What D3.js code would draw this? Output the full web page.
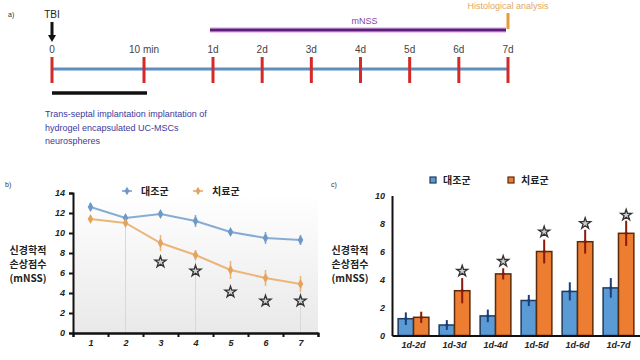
<!DOCTYPE html>
<html><head><meta charset="utf-8">
<script src="https://cdn.jsdelivr.net/npm/d3@7"></script>
<style>
html,body{margin:0;padding:0;background:#fff;}
svg{display:block;}
text{font-family:"Liberation Sans",Arial,sans-serif;}
.kr{font-family:"Noto Sans CJK KR","Noto Sans",sans-serif;font-weight:700;}
</style></head>
<body>
<svg id="c" width="640" height="360"></svg>
<script>
// ---------- data ----------
const minuteTicks = [0, 10];
const minuteLabels = ["0", "10 min"];
const dayTicks = [1, 2, 3, 4, 5, 6, 7];
const dayLabels = ["1d", "2d", "3d", "4d", "5d", "6d", "7d"];
const implantText = ["Trans-septal implantation  implantation of", "hydrogel encapsulated UC-MSCs", "neurospheres"];

const seriesNames = ["대조군", "치료군"];
const days = [1, 2, 3, 4, 5, 6, 7];
const controlScore = [12.6, 11.5, 11.9, 11.2, 10.1, 9.5, 9.3];
const controlErr = [0.4, 0.3, 0.3, 0.6, 0.3, 0.6, 0.5];
const treatScore = [11.4, 11.0, 9.0, 7.8, 6.3, 5.5, 4.9];
const treatErr = [0.2, 0.3, 0.8, 0.5, 0.9, 0.8, 0.8];
const lineStarDays = [3, 4, 5, 6, 7];
const lineStarY = [7.1, 6.2, 4.1, 3.2, 3.2];
const lineYTicks = [0, 2, 4, 6, 8, 10, 12, 14];
const dropDays = [2, 4, 7];

const periods = ["1d-2d", "1d-3d", "1d-4d", "1d-5d", "1d-6d", "1d-7d"];
const controlImp = [1.2, 0.75, 1.4, 2.5, 3.15, 3.4];
const controlImpErr = [0.45, 0.35, 0.45, 0.4, 0.65, 0.7];
const treatImp = [1.3, 3.2, 4.4, 6.0, 6.7, 7.3];
const treatImpErr = [0.4, 0.9, 0.4, 0.85, 0.85, 0.9];
const barStarY = [null, 4.6, 5.3, 7.4, 8.0, 8.6];
const barYTicks = [0, 2, 4, 6, 8, 10];
const yLabelLines = ["신경학적", "손상점수", "(mNSS)"];

// ---------- setup ----------
const svg = d3.select("#c");
const starPath = d3.symbol().type(d3.symbolStar).size(38)();

// ---------- panel a: timeline ----------
const tMin = d3.scaleLinear().domain([0, 10]).range([52, 144]);
const tDay = d3.scaleLinear().domain([1, 7]).range([213, 508]);
const lineY = 69;
const a = svg.append("g");
a.append("text").attr("x", 8).attr("y", 17).attr("font-size", 7).attr("fill", "#333").text("a)");
a.append("line").attr("x1", tMin(0)).attr("x2", tDay(7)).attr("y1", lineY).attr("y2", lineY)
  .attr("stroke", "#5a8fbf").attr("stroke-width", 3);
const allTicks = minuteTicks.map((m, i) => ({x: tMin(m), label: minuteLabels[i]}))
  .concat(dayTicks.map((d, i) => ({x: tDay(d), label: dayLabels[i]})));
a.selectAll(".tk").data(allTicks).join("line")
  .attr("x1", d => d.x).attr("x2", d => d.x).attr("y1", 57).attr("y2", 83)
  .attr("stroke", "#d42a2a").attr("stroke-width", 3);
a.selectAll(".tl").data(allTicks).join("text")
  .attr("x", d => d.x).attr("y", 53).attr("text-anchor", "middle")
  .attr("font-size", 10).attr("fill", "#444").text(d => d.label);
a.append("text").attr("x", tMin(0)).attr("y", 18).attr("text-anchor", "middle")
  .attr("font-size", 10).attr("fill", "#222").text("TBI");
a.append("line").attr("x1", tMin(0)).attr("x2", tMin(0)).attr("y1", 22).attr("y2", 37)
  .attr("stroke", "#111").attr("stroke-width", 3);
a.append("path").attr("d", `M${tMin(0)-4},35 L${tMin(0)+4},35 L${tMin(0)},42 Z`).attr("fill", "#111");
a.append("line").attr("x1", tDay(1) - 3).attr("x2", tDay(7) - 2).attr("y1", 30).attr("y2", 30)
  .attr("stroke", "#f2c8f2").attr("stroke-width", 6);
a.append("line").attr("x1", tDay(1) - 3).attr("x2", tDay(7) - 2).attr("y1", 30).attr("y2", 30)
  .attr("stroke", "#5e1e7e").attr("stroke-width", 3);
a.append("text").attr("x", (tDay(1) + tDay(7)) / 2 + 4).attr("y", 24).attr("text-anchor", "middle")
  .attr("font-size", 9).attr("fill", "#8a3fa8").text("mNSS");
a.append("line").attr("x1", tDay(7)).attr("x2", tDay(7)).attr("y1", 13).attr("y2", 29)
  .attr("stroke", "#e89a3c").attr("stroke-width", 3);
a.append("text").attr("x", tDay(7)).attr("y", 9).attr("text-anchor", "middle")
  .attr("font-size", 9).attr("fill", "#e0a865").text("Histological analysis");
a.append("line").attr("x1", tMin(0)).attr("x2", tMin(10) + 3).attr("y1", 93).attr("y2", 93)
  .attr("stroke", "#111").attr("stroke-width", 3.5);
a.selectAll(".it").data(implantText).join("text")
  .attr("x", 45).attr("y", (d, i) => 117 + i * 13.5)
  .attr("font-size", 9).attr("fill", "#3b3b9c").text(d => d);

// ---------- panel b: line chart ----------
const bx = d3.scaleLinear().domain([0.5, 7.5]).range([73, 318]);
const by = d3.scaleLinear().domain([0, 14]).range([333, 193]);
const b = svg.append("g");
const defs = svg.append("defs");
const grad = defs.append("linearGradient").attr("id", "bg").attr("x1", 0).attr("y1", 0).attr("x2", 0).attr("y2", 1);
grad.append("stop").attr("offset", "0%").attr("stop-color", "#ffffff");
grad.append("stop").attr("offset", "100%").attr("stop-color", "#e9e9e9");
b.append("rect").attr("x", bx(0.5)).attr("y", by(14)).attr("width", bx(7.5) - bx(0.5))
  .attr("height", by(0) - by(14)).attr("fill", "url(#bg)");
b.append("text").attr("x", 5).attr("y", 187).attr("font-size", 7).attr("fill", "#333").text("b)");
b.selectAll(".dl").data(dropDays).join("line")
  .attr("x1", d => bx(d)).attr("x2", d => bx(d)).attr("y1", d => by(treatScore[d - 1])).attr("y2", by(0))
  .attr("stroke", "#d8d8d8").attr("stroke-width", 1);

b.append("g").attr("transform", `translate(${bx(0.5)},0)`)
  .call(d3.axisLeft(by).tickValues(lineYTicks).tickSize(4).tickPadding(4));
b.append("g").attr("transform", `translate(0,${by(0)})`)
  .call(d3.axisBottom(bx).tickValues(days).tickFormat(d3.format("d")).tickSize(0).tickPadding(7));
b.append("g").attr("transform", `translate(0,${by(0)})`)
  .call(d3.axisBottom(bx).tickValues(d3.range(0.5, 8, 1)).tickSize(4).tickFormat(""));
b.selectAll(".domain").attr("stroke", "#111").attr("stroke-width", 2);
b.selectAll(".tick line").attr("stroke", "#111").attr("stroke-width", 2);
b.selectAll(".tick text").attr("font-size", 9).attr("font-style", "italic").attr("font-weight", "bold").attr("fill", "#222");

function drawSeries(g, vals, errs, color, mcolor) {
  const pts = vals.map((v, i) => ({x: days[i], y: v, e: errs[i]}));
  g.append("path").datum(pts).attr("fill", "none").attr("stroke", color).attr("stroke-width", 2)
    .attr("d", d3.line().x(d => bx(d.x)).y(d => by(d.y)));
  g.selectAll(null).data(pts).join("line")
    .attr("x1", d => bx(d.x)).attr("x2", d => bx(d.x))
    .attr("y1", d => by(d.y - d.e)).attr("y2", d => by(d.y + d.e))
    .attr("stroke", color).attr("stroke-width", 1.6);
  g.selectAll(null).data(pts).join("path")
    .attr("transform", d => `translate(${bx(d.x)},${by(d.y)})`)
    .attr("d", d3.symbol().type(d3.symbolDiamond).size(28)()).attr("fill", mcolor);
}
drawSeries(b, controlScore, controlErr, "#86acd4", "#6d98c8");
drawSeries(b, treatScore, treatErr, "#ecb57a", "#e3a460");
b.selectAll(".st").data(lineStarDays).join("path")
  .attr("transform", (d, i) => `translate(${bx(d)},${by(lineStarY[i])})`)
  .attr("d", starPath).attr("fill", "#d0d0d0").attr("stroke", "#333").attr("stroke-width", 1.3);
const legB = [{x: 127, c: "#6d98c8"}, {x: 198, c: "#e3a460"}];
legB.forEach((l, i) => {
  b.append("path").attr("transform", `translate(${l.x},191)`).attr("d", d3.symbol().type(d3.symbolDiamond).size(22)()).attr("fill", l.c);
  b.append("line").attr("x1", l.x - 5).attr("x2", l.x + 5).attr("y1", 191).attr("y2", 191).attr("stroke", l.c).attr("stroke-width", 1.5);
  b.append("text").attr("class", "kr").attr("x", l.x + 14).attr("y", 195).attr("font-size", 10).attr("fill", "#222").text(seriesNames[i]);
});
b.selectAll(".yl").data(yLabelLines).join("text").attr("class", "kr")
  .attr("x", 28).attr("y", (d, i) => 254 + i * 14).attr("text-anchor", "middle")
  .attr("font-size", 10).attr("fill", "#222").text(d => d);

// ---------- panel c: bar chart ----------
const cx = d3.scaleBand().domain(periods).range([392, 640]).paddingInner(0.25).paddingOuter(0.15);
const cy = d3.scaleLinear().domain([0, 10]).range([335.5, 195.5]);
const c = svg.append("g");
c.append("text").attr("x", 331).attr("y", 187).attr("font-size", 7).attr("fill", "#333").text("c)");
const bw = cx.bandwidth() / 2;
const barData = [];
periods.forEach((p, i) => {
  barData.push({p, k: 0, v: controlImp[i], e: controlImpErr[i]});
  barData.push({p, k: 1, v: treatImp[i], e: treatImpErr[i]});
});
const fills = ["#5b9bd5", "#ed7d31"], strokes = ["#1f3a5c", "#5a2a0a"], errC = ["#1c3f7a", "#8a1a0a"];
c.selectAll(".bar").data(barData).join("rect")
  .attr("x", d => cx(d.p) + d.k * bw).attr("width", bw)
  .attr("y", d => cy(d.v)).attr("height", d => cy(0) - cy(d.v))
  .attr("fill", d => fills[d.k]).attr("stroke", d => strokes[d.k]).attr("stroke-width", 1.5);
c.selectAll(".eb").data(barData).join("line")
  .attr("x1", d => cx(d.p) + d.k * bw + bw / 2).attr("x2", d => cx(d.p) + d.k * bw + bw / 2)
  .attr("y1", d => cy(d.v - d.e)).attr("y2", d => cy(d.v + d.e))
  .attr("stroke", d => errC[d.k]).attr("stroke-width", 2);
c.selectAll(".ed").data(barData).join("circle")
  .attr("cx", d => cx(d.p) + d.k * bw + bw / 2).attr("cy", d => cy(d.v)).attr("r", 1.6)
  .attr("fill", d => errC[d.k]);
c.selectAll(".st").data(periods.filter((p, i) => barStarY[i] != null)).join("path")
  .attr("transform", p => `translate(${cx(p) + bw * 1.5},${cy(barStarY[periods.indexOf(p)])})`)
  .attr("d", starPath).attr("fill", "#d0d0d0").attr("stroke", "#333").attr("stroke-width", 1.3);
c.append("g").attr("transform", `translate(392,0)`)
  .call(d3.axisLeft(cy).tickValues(barYTicks).tickSize(0).tickPadding(7));
c.append("g").attr("transform", `translate(0,${cy(0)})`)
  .call(d3.axisBottom(cx).tickSize(0).tickPadding(6));
c.selectAll(".domain").attr("stroke", "#111").attr("stroke-width", 2);
c.selectAll(".tick text").attr("font-size", 9).attr("font-style", "italic").attr("font-weight", "bold").attr("fill", "#222");
const legC = [{x: 433}, {x: 511}];
legC.forEach((l, i) => {
  c.append("rect").attr("x", l.x - 3).attr("y", 177).attr("width", 6).attr("height", 6)
    .attr("fill", fills[i]).attr("stroke", strokes[i]).attr("stroke-width", 1.2);
  c.append("text").attr("class", "kr").attr("x", l.x + 10).attr("y", 184).attr("font-size", 10).attr("fill", "#222").text(seriesNames[i]);
});
c.selectAll(".yl").data(yLabelLines).join("text").attr("class", "kr")
  .attr("x", 350).attr("y", (d, i) => 254 + i * 14).attr("text-anchor", "middle")
  .attr("font-size", 10).attr("fill", "#222").text(d => d);
</script>
</body></html>
